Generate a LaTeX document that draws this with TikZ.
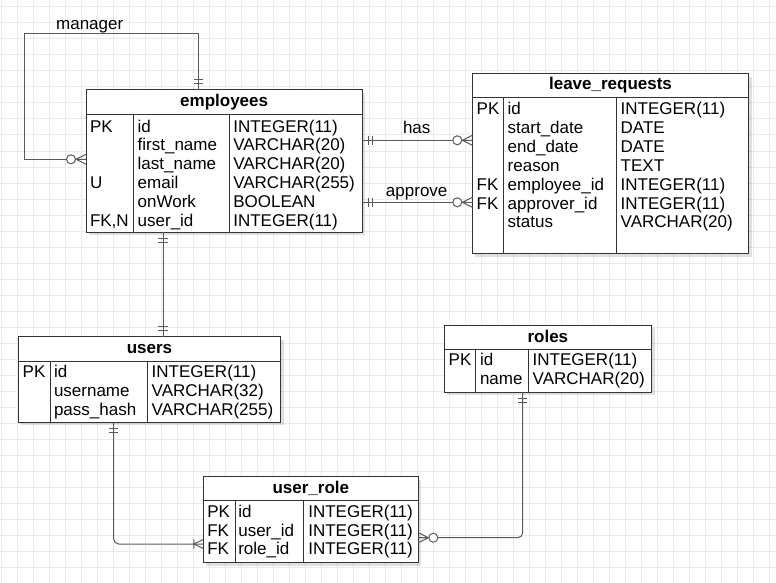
\documentclass[tikz,border=0pt]{standalone}
\usepackage{fontspec}
\setmainfont{Liberation Sans}
\usetikzlibrary{calc,shadows}
\definecolor{gridline}{HTML}{EBEBEB}
\definecolor{edge}{HTML}{333333}
\definecolor{wire}{HTML}{5A5A5A}
\tikzset{
  tbl/.style={draw=edge, line width=1pt, fill=white, inner sep=0pt, outer sep=0pt,
    anchor=north west,
    drop shadow={shadow xshift=3pt, shadow yshift=-3pt, fill=black, opacity=0.12}},
  sepline/.style={draw=edge, line width=1pt},
  cell/.style={anchor=base west, inner sep=0pt, outer sep=0pt, font=\fontsize{17}{19}\selectfont},
  title/.style={anchor=base, inner sep=0pt, outer sep=0pt, font=\fontsize{17}{19}\selectfont\bfseries},
  lbl/.style={anchor=base, inner sep=0pt, outer sep=0pt, font=\fontsize{17}{19}\selectfont},
  rel/.style={draw=wire, line width=1pt},
  ring/.style={draw=wire, line width=1pt, fill=white},
}
% ER end markers: #1 point on the table edge, #2 outward direction (degrees)
\newcommand\erOne[2]{\begin{scope}[shift={(#1)},rotate=#2]
  \draw[rel] (6,-4.7)--(6,4.7) (10,-4.7)--(10,4.7);\end{scope}}
\newcommand\erZeroMany[2]{\begin{scope}[shift={(#1)},rotate=#2]
  \draw[rel] (0,-5)--(10,0)--(0,5) (0,0)--(10,0);
  \draw[ring] (15,0) circle[radius=4.5];\end{scope}}
\newcommand\erOneMany[2]{\begin{scope}[shift={(#1)},rotate=#2]
  \draw[rel] (0,-4.5)--(9.5,0)--(0,4.5) (9.5,-4.7)--(9.5,4.7);\end{scope}}
% table rows: #1 prefix, #2/#3/#4 column x, #5 first baseline, #6 rows
\newcommand\fillrows[6]{\foreach \k/\n/\t [count=\i] in {#6}{%
  \node[cell] (#1-k\i) at (#2,{#5+18.8*(\i-1)}) {\k};
  \node[cell] (#1-n\i) at (#3,{#5+18.8*(\i-1)}) {\n};
  \node[cell] (#1-t\i) at (#4,{#5+18.8*(\i-1)}) {\t};}}
% header band and column separators: #1 node, #2 header height, #3/#4 column offsets
\newcommand\tblframe[4]{%
  \draw[sepline] ($(#1.north west)+(0,#2)$) -- ($(#1.north east)+(0,#2)$);
  \draw[sepline] ($(#1.north west)+(#3,#2)$) -- ($(#1.south west)+(#3,0)$);
  \draw[sepline] ($(#1.north west)+(#4,#2)$) -- ($(#1.south west)+(#4,0)$);}

\begin{document}
\begin{tikzpicture}[x=1pt,y=-1pt]
\useasboundingbox (0,0) rectangle (776,583);
\fill[white] (0,0) rectangle (776,583);
% background grid
\foreach \gx in {1,17,...,775} \draw[gridline, line width=1pt] (\gx,0) -- (\gx,583);
\foreach \gy in {7,23,...,583} \draw[gridline, line width=1pt] (0,\gy) -- (776,\gy);

% employees
\node[tbl, minimum width=276.3pt, minimum height=142.3pt] (emp) at (86,90) {};
\tblframe{emp}{24.3}{47.7}{143.3}
\node[title] (emp-title) at ($(emp.north)+(0,16.7)$) {employees};
\fillrows{emp}{90}{137.7}{233.3}{132}{PK/id/INTEGER(11), /first\_name/VARCHAR(20),
  /last\_name/VARCHAR(20), U/email/VARCHAR(255), /onWork/BOOLEAN, {FK,N}/user\_id/INTEGER(11)}

% leave_requests
\node[tbl, minimum width=276.4pt, minimum height=180pt] (lr) at (472.3,73.7) {};
\tblframe{lr}{23.6}{31}{144}
\node[title] (lr-title) at ($(lr.north)+(0,16.3)$) {leave\_requests};
\fillrows{lr}{476.7}{507.7}{620.7}{115}{PK/id/INTEGER(11), /start\_date/DATE, /end\_date/DATE,
  /reason/TEXT, FK/employee\_id/INTEGER(11), FK/approver\_id/INTEGER(11), /status/VARCHAR(20)}

% users
\node[tbl, minimum width=262.4pt, minimum height=85.6pt] (users) at (18.3,336.7) {};
\tblframe{users}{24.3}{31.7}{129}
\node[title] (users-title) at ($(users.north)+(0,16.7)$) {users};
\fillrows{users}{22.7}{54}{151.7}{377.7}{PK/id/INTEGER(11), /username/VARCHAR(32),
  /pass\_hash/VARCHAR(255)}

% roles
\node[tbl, minimum width=207.7pt, minimum height=66.7pt] (roles) at (444,325.3) {};
\tblframe{roles}{24.4}{31.3}{84.3}
\node[title] (roles-title) at ($(roles.north)+(0,16.7)$) {roles};
\fillrows{roles}{448.7}{480}{532.7}{365.5}{PK/id/INTEGER(11), /name/VARCHAR(20)}

% user_role
\node[tbl, minimum width=215pt, minimum height=86pt] (ur) at (203.3,476.7) {};
\tblframe{ur}{24}{31.7}{100.4}
\node[title] (ur-title) at ($(ur.north)+(0,16.5)$) {user\_role};
\fillrows{ur}{207.3}{238.3}{308.3}{517.3}{PK/id/INTEGER(11), FK/user\_id/INTEGER(11),
  FK/role\_id/INTEGER(11)}

% manager self reference
\coordinate (mgrA) at ($(emp.north west)+(112.7,0)$);
\coordinate (mgrB) at ($(emp.north west)+(0,69.3)$);
\draw[rel] (mgrA) -- ++(0,-56) -- ++(-174.7,0) |- (mgrB);
\node[lbl] (mgr-lbl) at (89.7,29.3) {manager};
\erOne{mgrA}{90}
\erZeroMany{mgrB}{180}

% employees -- leave_requests
\coordinate (hasA) at ($(emp.north east)+(0,50.3)$);
\coordinate (hasB) at (lr.west |- hasA);
\draw[rel] (hasA) -- (hasB);
\node[lbl] (has-lbl) at (416.7,134) {has};
\erOne{hasA}{0}
\erZeroMany{hasB}{180}

\coordinate (appA) at ($(emp.north east)+(0,112.3)$);
\coordinate (appB) at (lr.west |- appA);
\draw[rel] (appA) -- (appB);
\node[lbl] (app-lbl) at (416.7,196) {approve};
\erOne{appA}{0}
\erZeroMany{appB}{180}

% employees -- users
\coordinate (euA) at ($(emp.south west)+(77,0)$);
\coordinate (euB) at (euA |- users.north);
\draw[rel] (euA) -- (euB);
\erOne{euA}{270}
\erOne{euB}{90}

% users -- user_role
\coordinate (urA) at ($(users.south west)+(95.4,0)$);
\coordinate (urB) at ($(ur.north west)+(0,67.3)$);
\draw[rel, rounded corners=5pt] (urA) |- (urB);
\erOne{urA}{270}
\erOneMany{urB}{180}

% roles -- user_role
\coordinate (rrA) at ($(roles.south west)+(78.7,0)$);
\coordinate (rrB) at ($(ur.north east)+(0,61)$);
\draw[rel, rounded corners=5pt] (rrA) |- (rrB);
\erOne{rrA}{270}
\erZeroMany{rrB}{0}
\end{tikzpicture}
\end{document}
